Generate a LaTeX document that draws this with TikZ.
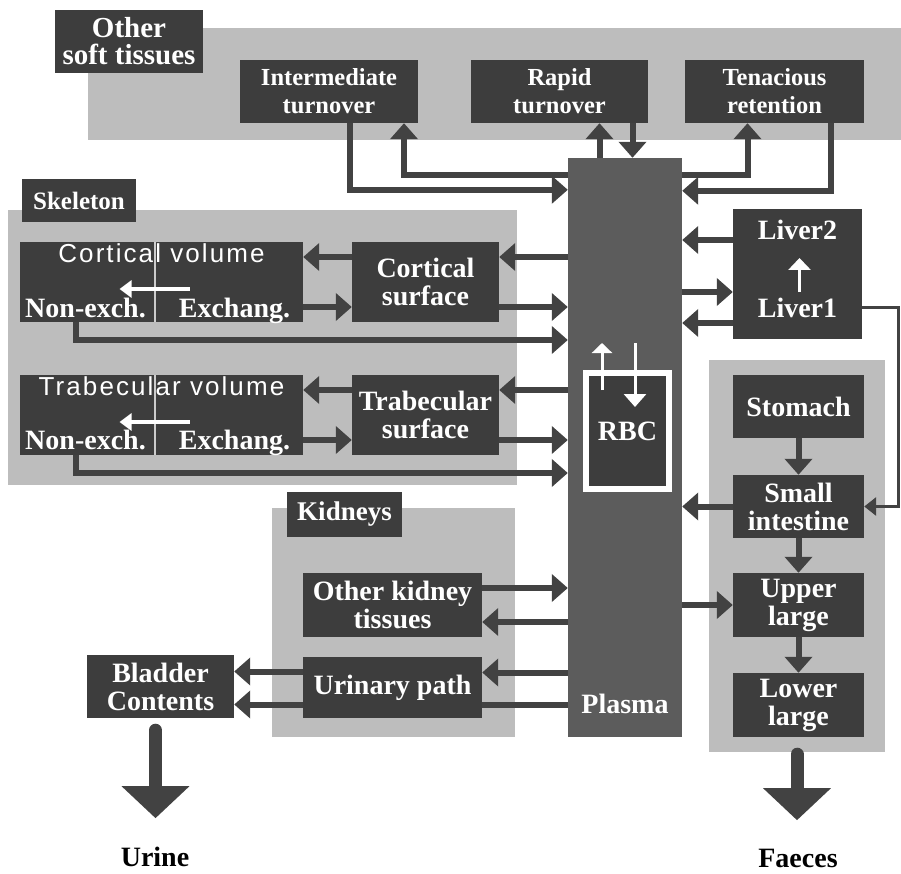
\documentclass[tikz,border=0pt]{standalone}
\usepackage{fontspec}
\setmainfont{Liberation Serif}
\newfontfamily\gothicf[LetterSpace=8]{Liberation Sans}
\usetikzlibrary{arrows.meta}

\definecolor{boxc}{gray}{0.24}
\definecolor{regc}{gray}{0.74}
\definecolor{plasc}{gray}{0.36}
\definecolor{arrc}{gray}{0.26}

\newcommand\bigbf{\bfseries\fontsize{28}{28}\selectfont}
\newcommand\topbf{\bfseries\fontsize{24.5}{28}\selectfont}

\begin{document}
\begin{tikzpicture}[x=1pt,y=-1pt,
  sz/.style 2 args={minimum width=#1pt,minimum height=#2pt},
  region/.style={fill=regc,inner sep=0pt},
  box/.style={fill=boxc,text=white,inner sep=0pt,align=center,font=\bigbf},
  btext/.style={text=white,inner sep=0pt,anchor=base,font=\bigbf},
  vtext/.style={text=white,inner sep=0pt,anchor=base,font=\gothicf\fontsize{26}{26}\selectfont},
  outtext/.style={text=black,inner sep=0pt,anchor=base,font=\bigbf},
  flow/.style={draw=arrc,line width=6pt,-{Triangle[length=16pt,width=27pt]}},
  flowline/.style={draw=arrc,line width=6pt},
  thinflow/.style={draw=arrc,line width=3pt,-{Triangle[length=12pt,width=18pt]}},
  bigflow/.style={draw=arrc,line width=13pt,line cap=round,-{Triangle[length=32pt,width=66pt]}},
  warrow/.style={draw=white,line width=3.5pt,-{Triangle[length=12pt,width=17pt]}},
  divider/.style={draw=white!80!black,line width=1.2pt}]

\useasboundingbox (0,0) rectangle (901,874);

% ---- compartment groups (shaded areas)
\node[region,sz={813}{112}] (softreg) at (494.5,84) {};
\node[region,sz={509}{275}] (skelreg) at (262.5,347.5) {};
\node[region,sz={243}{229}] (kidreg) at (393.5,622.5) {};
\node[region,sz={176}{392}] (gireg) at (797,556) {};

% ---- plasma column
\node[fill=plasc,inner sep=0pt,sz={114}{579}] (plasma) at (625,447.5) {};
\node[btext] (plasmalbl) at ([yshift=24pt]plasma.south) {Plasma};

% ---- group titles
\node[box,sz={148}{63},font=\bfseries\fontsize{29}{27}\selectfont] (softlbl) at (129,41.5) {Other\\soft tissues};
\node[box,sz={114}{43},font=\bfseries\fontsize{25}{25}\selectfont] (skellbl) at (79,200.5) {Skeleton};
\node[box,sz={115}{45},font=\bfseries\fontsize{27}{27}\selectfont] (kidlbl) at (344.5,514.5) {Kidneys};

% ---- other soft tissues
\node[box,sz={178}{63},font=\topbf] (inter) at (329,91.5) {Intermediate\\turnover};
\node[box,sz={177}{63},font=\topbf] (rapid) at (559.5,91.5) {Rapid\\turnover};
\node[box,sz={179}{63},font=\topbf] (tenac) at (774.5,91.5) {Tenacious\\retention};

% ---- skeleton
\node[box,sz={283}{80}] (cvol) at (161.5,282) {};
\draw[divider] ([xshift=-6.5pt]cvol.north) -- ([xshift=-6.5pt]cvol.south);
\node[vtext] (cvolt) at ([yshift=19pt]cvol.center) {Cortical volume};
\node[btext] (cvolne) at ([xshift=-76pt,yshift=-35pt]cvol.center) {Non-exch.};
\node[btext] (cvolex) at ([xshift=73pt,yshift=-35pt]cvol.center) {Exchang.};
\node[box,sz={147}{80}] (csurf) at (425.5,282) {Cortical\\surface};

\node[box,sz={283}{80}] (tvol) at (161.5,415) {};
\draw[divider] ([xshift=-6.5pt]tvol.north) -- ([xshift=-6.5pt]tvol.south);
\node[vtext] (tvolt) at ([yshift=20pt]tvol.center) {Trabecular volume};
\node[btext] (tvolne) at ([xshift=-76pt,yshift=-34pt]tvol.center) {Non-exch.};
\node[btext] (tvolex) at ([xshift=73pt,yshift=-34pt]tvol.center) {Exchang.};
\node[box,sz={147}{80}] (tsurf) at (425.5,415) {Trabecular\\surface};

% ---- liver
\node[box,sz={129}{130}] (liver) at (797.5,274) {};
\node[btext] (liver2) at ([yshift=34pt]liver.center) {Liver2};
\node[btext] (liver1) at ([yshift=-43pt]liver.center) {Liver1};

% ---- red blood cells
\node[box,draw=white,line width=6pt,sz={83}{116}] (rbc) at (627.5,431) {RBC};

% ---- gastrointestinal tract
\node[box,sz={131}{63}] (stomach) at (798.5,406.5) {Stomach};
\node[box,sz={131}{63}] (si) at (798.5,506.5) {Small\\intestine};
\node[box,sz={131}{64}] (ul) at (798.5,605) {Upper\\large};
\node[box,sz={131}{64}] (ll) at (798.5,705) {Lower\\large};

% ---- kidneys and bladder
\node[box,sz={179}{64}] (okt) at (392.5,605) {Other kidney\\tissues};
\node[box,sz={179}{61}] (upath) at (392.5,687.5) {Urinary path};
\node[box,sz={147}{63}] (bladder) at (160.5,686.5) {Bladder\\Contents};

% ---- excreta
\node[outtext] (urine) at (155,866) {Urine};
\node[outtext] (faeces) at (798,867) {Faeces};

% ---- soft tissue exchanges
\draw[flow] ([xshift=21pt]inter.south) |- ([yshift=-32pt]plasma.north west);
\draw[flow] ([yshift=-17pt]plasma.north west) -| ([xshift=75pt]inter.south);
\draw[flow] ([xshift=40pt]rapid.south |- plasma.north) -- ([xshift=40pt]rapid.south);
\draw[flow] ([xshift=73pt]rapid.south) -- ([xshift=73pt]rapid.south |- plasma.north);
\draw[flow] ([yshift=-17pt]plasma.north east) -| ([xshift=-27pt]tenac.south);
\draw[flow] ([xshift=56pt]tenac.south) |- ([yshift=-33pt]plasma.north east);

% ---- cortical bone
\draw[flow] ([yshift=25pt]plasma.west |- csurf.east) -- ([yshift=25pt]csurf.east);
\draw[flow] ([yshift=-25pt]csurf.east) -- ([yshift=-25pt]plasma.west |- csurf.east);
\draw[flow] ([yshift=25pt]csurf.west) -- ([yshift=25pt]cvol.east);
\draw[flow] ([yshift=-25pt]cvol.east) -- ([yshift=-25pt]csurf.west);
\draw[flow] ([xshift=-86pt]cvol.south) |- ([yshift=-58pt]plasma.west |- cvol.east);
\draw[warrow] ([xshift=28pt,yshift=-7pt]cvol.center) -- ([xshift=-42pt,yshift=-7pt]cvol.center);

% ---- trabecular bone
\draw[flow] ([yshift=25pt]plasma.west |- tsurf.east) -- ([yshift=25pt]tsurf.east);
\draw[flow] ([yshift=-25pt]tsurf.east) -- ([yshift=-25pt]plasma.west |- tsurf.east);
\draw[flow] ([yshift=25pt]tsurf.west) -- ([yshift=25pt]tvol.east);
\draw[flow] ([yshift=-25pt]tvol.east) -- ([yshift=-25pt]tsurf.west);
\draw[flow] ([xshift=-86pt]tvol.south) |- ([yshift=-58pt]plasma.west |- tvol.east);
\draw[warrow] ([xshift=28pt,yshift=-7pt]tvol.center) -- ([xshift=-42pt,yshift=-7pt]tvol.center);

% ---- liver
\draw[flow] ([yshift=34pt]liver.west) -- ([yshift=34pt]plasma.east |- liver.west);
\draw[flow] ([yshift=-18pt]plasma.east |- liver.west) -- ([yshift=-18pt]liver.west);
\draw[flow] ([yshift=-49pt]liver.west) -- ([yshift=-49pt]plasma.east |- liver.west);
\draw[warrow,-{Triangle[length=12pt,width=22pt]}] ([xshift=2pt,yshift=-18pt]liver.center) -- ([xshift=2pt,yshift=16pt]liver.center);
\draw[thinflow] ([yshift=-33pt]liver.east) -- ++(36,0) |- (si.east);

% ---- RBC exchange
\draw[warrow,line width=3pt,-{Triangle[length=10pt,width=20pt]}] ([xshift=-25.5pt,yshift=41pt]rbc.center) -- ([xshift=-25.5pt,yshift=88pt]rbc.center);
\draw[warrow,line width=3pt,-{Triangle[length=13pt,width=22pt]}] ([xshift=7.5pt,yshift=88pt]rbc.center) -- ([xshift=7.5pt,yshift=24pt]rbc.center);

% ---- gastrointestinal tract
\draw[flow] (stomach.south) -- (si.north);
\draw[flow] (si.south) -- (ul.north);
\draw[flow] (ul.south) -- (ll.north);
\draw[flow] (si.west) -- (si.west -| plasma.east);
\draw[flow] (ul.west -| plasma.east) -- (ul.west);
\draw[bigflow] ([yshift=-2pt]gireg.south) -- ([yshift=-68pt]gireg.south);

% ---- kidneys
\draw[flow] ([yshift=17pt]okt.east) -- ([yshift=17pt]plasma.west |- okt.east);
\draw[flow] ([yshift=-17pt]plasma.west |- okt.east) -- ([yshift=-17pt]okt.east);
\draw[flow] ([yshift=15pt]plasma.west |- upath.east) -- ([yshift=15pt]upath.east);
\draw[flowline] ([yshift=-17pt]plasma.west |- upath.east) -- ([yshift=-17pt]upath.east);
\draw[flow] ([yshift=16pt]upath.west) -- ([yshift=16pt]upath.west -| bladder.east);
\draw[flow] ([yshift=-17pt]upath.west) -- ([yshift=-17pt]upath.west -| bladder.east);
\draw[bigflow] ([xshift=-5pt,yshift=-12pt]bladder.south) -- ([xshift=-5pt,yshift=-100pt]bladder.south);

\end{tikzpicture}
\end{document}
